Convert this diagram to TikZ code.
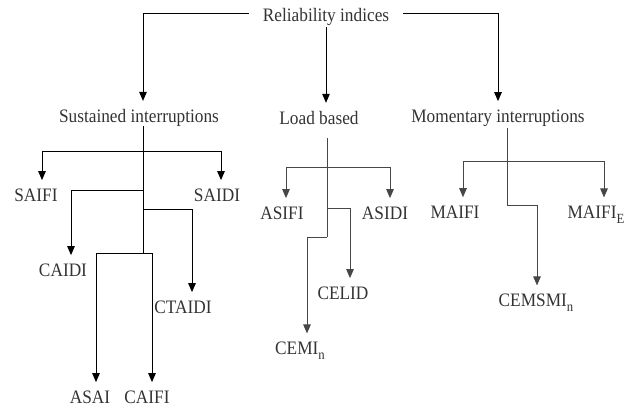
\documentclass[tikz,border=0pt]{standalone}
\usepackage{fontspec}
\setmainfont{Liberation Serif}[FakeStretch=0.91]
\usetikzlibrary{arrows.meta}
\newcommand\subx[1]{\raisebox{-4.5pt}{\fontsize{14}{14}\selectfont #1}}
\begin{document}
\begin{tikzpicture}[x=1pt,y=-1pt,
  lbl/.style={inner sep=0pt, outer ysep=8.5pt, font=\fontsize{19}{22}\selectfont, text=black!80},
  rootlbl/.style={lbl, outer ysep=1.5pt},
  ln/.style={line width=1pt, black},
  lng/.style={line width=0.9pt, black!72},
  arr/.style={-{Triangle[length=9pt,width=7.5pt]}},
]
\useasboundingbox (0,0) rectangle (644,410);
% labels
\node[rootlbl] (root) at (326,17) {Reliability indices};
\node[lbl] (sus) at (139,118) {Sustained interruptions};
\node[lbl] (load) at (319,118) {Load based};
\node[lbl] (mom) at (498,118) {Momentary interruptions};
\node[lbl] (saifi) at (36,195) {SAIFI};
\node[lbl] (saidi) at (217,195) {SAIDI};
\node[lbl] (caidi) at (63,270) {CAIDI};
\node[lbl] (ctaidi) at (183,307) {CTAIDI};
\node[lbl] (asai) at (90,397) {ASAI};
\node[lbl] (caifi) at (147,397) {CAIFI};
\node[lbl] (asifi) at (282,213) {ASIFI};
\node[lbl] (asidi) at (385,213) {ASIDI};
\node[lbl] (celid) at (343,293) {CELID};
\node[lbl, anchor=base] (cemi) at (300,354.5) {CEMI\subx{n}};
\node[lbl] (maifi) at (455,212) {MAIFI};
\node[lbl, anchor=base] (maifie) at (596,218.5) {MAIFI\subx{E}};
\node[lbl, anchor=base] (cemsmi) at (536,306.5) {CEMSMI\subx{n}};
% top level
\draw[ln,arr] ([xshift=-14pt,yshift=4pt]root.west) -| ([xshift=4pt]sus.north);
\draw[ln,arr] (root.south) -- ([xshift=7pt]load.north);
\draw[ln,arr] ([xshift=14pt,yshift=4pt]root.east) -| (mom.north);
% sustained
\coordinate (s0) at (143,126);
\coordinate (s1) at (143,151);
\coordinate (s2) at (143,190);
\coordinate (s3) at (143,209);
\coordinate (s4) at (143,253);
\draw[ln] (s0) -- (s4);
\draw[ln,arr] (s1) -| ([xshift=6pt]saifi.north);
\draw[ln,arr] (s1) -| ([xshift=4pt]saidi.north);
\draw[ln,arr] (s2) -| ([xshift=8pt]caidi.north);
\draw[ln,arr] (s3) -| ([xshift=9pt]ctaidi.north);
\draw[ln,arr] (s4) -| ([xshift=6pt]asai.north);
\draw[ln,arr] (s4) -| ([xshift=5pt]caifi.north);
% load based
\coordinate (l0) at (327,138);
\coordinate (l1) at (327,167);
\coordinate (l2) at (327,208);
\coordinate (l3) at (327,237);
\draw[lng] (l0) -- (l3);
\draw[lng,arr] (l1) -| ([xshift=4pt]asifi.north);
\draw[lng,arr] (l1) -| ([xshift=5pt]asidi.north);
\draw[lng,arr] (l2) -| ([xshift=7pt]celid.north);
\draw[lng,arr] (l3) -| ([xshift=7pt]cemi.north);
% momentary
\coordinate (m0) at (507,128);
\coordinate (m1) at (507,161);
\coordinate (m2) at (507,205);
\draw[lng] (m0) -- (m2);
\draw[lng,arr] (m1) -| ([xshift=8pt]maifi.north);
\draw[lng,arr] (m1) -| ([xshift=8pt]maifie.north);
\draw[lng,arr] (m2) -| ([xshift=1pt]cemsmi.north);
\end{tikzpicture}
\end{document}
